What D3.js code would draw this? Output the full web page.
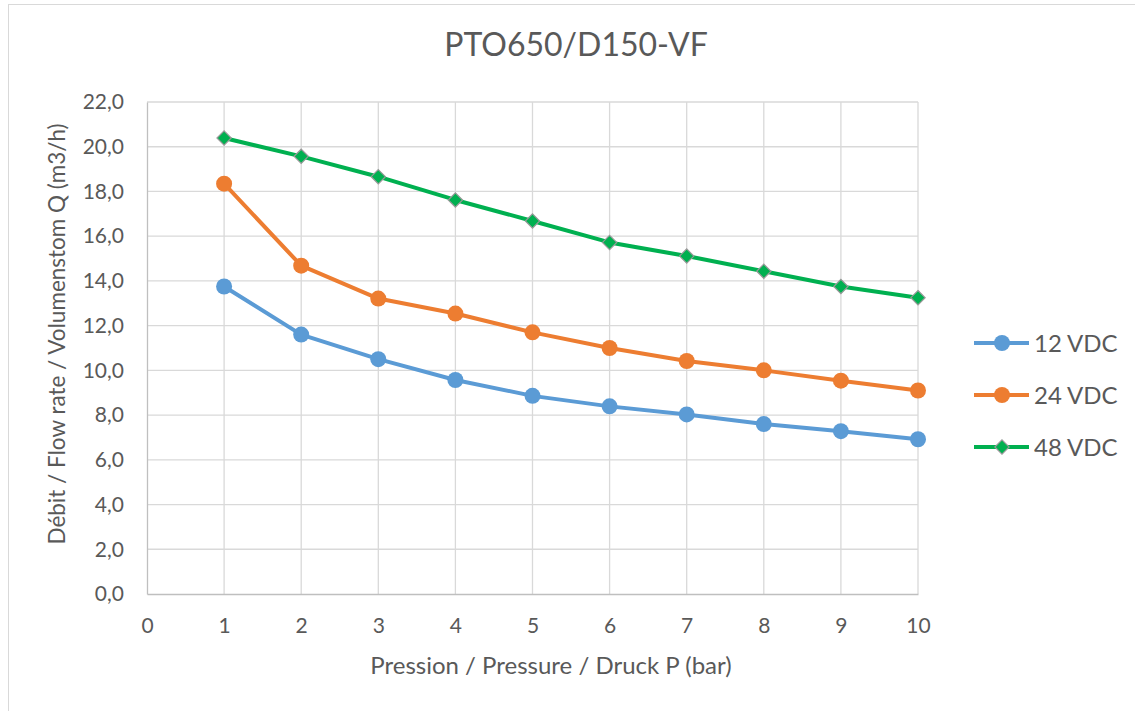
<!DOCTYPE html>
<html>
<head>
<meta charset="utf-8">
<script src="https://cdn.jsdelivr.net/npm/d3@7"></script>
<style>
  body { margin: 0; background: #fff; }
  text { font-family: Lato, "Open Sans", sans-serif; fill: #595959; }
</style>
</head>
<body>
<div id="chart"></div>
<script>
const pressure = [1, 2, 3, 4, 5, 6, 7, 8, 9, 10];
const flow12 = [13.75, 11.6, 10.5, 9.57, 8.86, 8.39, 8.03, 7.6, 7.28, 6.92];
const flow24 = [18.35, 14.68, 13.21, 12.54, 11.7, 11.0, 10.42, 10.0, 9.54, 9.1];
const flow48 = [20.39, 19.57, 18.66, 17.62, 16.68, 15.72, 15.11, 14.43, 13.75, 13.25];
const seriesNames = ["12 VDC", "24 VDC", "48 VDC"];
const xTicks = [0, 1, 2, 3, 4, 5, 6, 7, 8, 9, 10];
const yTicks = [0, 2, 4, 6, 8, 10, 12, 14, 16, 18, 20, 22];

const width = 1135, height = 711,
  margin = {top: 102, bottom: 117, left: 147, right: 217};

const series = [
  {name: seriesNames[0], values: flow12, color: "#5b9bd5", shape: "circle"},
  {name: seriesNames[1], values: flow24, color: "#ed7d31", shape: "circle"},
  {name: seriesNames[2], values: flow48, color: "#00b050", shape: "diamond"}
];

const svg = d3.select("#chart").append("svg")
  .attr("width", width).attr("height", height);

// outer chart border (right and bottom edges fall outside the window)
svg.append("rect")
  .attr("x", 8.5).attr("y", 4.5)
  .attr("width", width + 10).attr("height", height + 10)
  .attr("fill", "none").attr("stroke", "#d9d9d9");

const xScale = d3.scaleLinear().domain([0, 10]).range([margin.left, width - margin.right]);
const yScale = d3.scaleLinear().domain([0, 22]).range([height - margin.bottom, margin.top]);

// grid
svg.append("g")
  .selectAll("line")
  .data(yTicks.slice(1))
  .join("line")
  .attr("x1", xScale(0)).attr("x2", xScale(10))
  .attr("y1", d => yScale(d)).attr("y2", d => yScale(d))
  .attr("stroke", "#d9d9d9").attr("stroke-width", 1.3);

svg.append("g")
  .selectAll("line")
  .data(xTicks.slice(1))
  .join("line")
  .attr("x1", d => xScale(d)).attr("x2", d => xScale(d))
  .attr("y1", yScale(0)).attr("y2", yScale(22))
  .attr("stroke", "#d9d9d9").attr("stroke-width", 1.3);

// axes
const xAxis = d3.axisBottom(xScale).tickValues(xTicks).tickSize(0).tickPadding(24).tickFormat(d3.format("d"));
const yAxis = d3.axisLeft(yScale).tickValues(yTicks).tickSize(0).tickPadding(23)
  .tickFormat(d => d3.format(".1f")(d).replace(".", ","));

const gx = svg.append("g")
  .attr("transform", "translate(0," + yScale(0) + ")")
  .call(xAxis);
gx.select(".domain").attr("stroke", "#bfbfbf").attr("stroke-width", 1.3);
gx.selectAll("text").style("font-size", "21px").attr("fill", "#404040");

const gy = svg.append("g")
  .attr("transform", "translate(" + xScale(0) + ",0)")
  .call(yAxis);
gy.select(".domain").attr("stroke", "#bfbfbf").attr("stroke-width", 1.3);
gy.selectAll("text").style("font-size", "21px").attr("fill", "#595959");

// lines
const line = d3.line()
  .x((d, i) => xScale(pressure[i]))
  .y(d => yScale(d));

const diamond = d3.symbol().type(d3.symbolDiamond2).size(130);

series.forEach(s => {
  svg.append("path")
    .attr("d", line(s.values))
    .attr("fill", "none")
    .attr("stroke", s.color)
    .attr("stroke-width", 4)
    .attr("stroke-linejoin", "round");

  if (s.shape === "circle") {
    svg.append("g").selectAll("circle")
      .data(s.values)
      .join("circle")
      .attr("cx", (d, i) => xScale(pressure[i]))
      .attr("cy", d => yScale(d))
      .attr("r", 8)
      .attr("fill", s.color);
  } else {
    svg.append("g").selectAll("path")
      .data(s.values)
      .join("path")
      .attr("d", diamond)
      .attr("transform", (d, i) => "translate(" + xScale(pressure[i]) + "," + yScale(d) + ")")
      .attr("fill", s.color)
      .attr("stroke", "#999")
      .attr("stroke-width", 1.2);
  }
});

// title
svg.append("text")
  .attr("x", 576)
  .attr("y", 56)
  .attr("text-anchor", "middle")
  .style("font-size", "32px")
  .text("PTO650/D150-VF");

// axis titles
svg.append("text")
  .attr("x", 551)
  .attr("y", 674)
  .attr("text-anchor", "middle")
  .style("font-size", "24px")
  .text("Pression / Pressure / Druck P (bar)");

svg.append("text")
  .attr("transform", "translate(65,334) rotate(-90)")
  .attr("text-anchor", "middle")
  .style("font-size", "22.5px")
  .text("Débit / Flow rate / Volumenstom Q (m3/h)");

// legend
const legend = svg.append("g");
series.forEach((s, i) => {
  const ly = 343 + i * 52;
  legend.append("line")
    .attr("x1", 974).attr("x2", 1029).attr("y1", ly).attr("y2", ly)
    .attr("stroke", s.color).attr("stroke-width", 4);
  if (s.shape === "circle") {
    legend.append("circle").attr("cx", 1002).attr("cy", ly).attr("r", 8).attr("fill", s.color);
  } else {
    legend.append("path").attr("d", diamond)
      .attr("transform", "translate(1002," + ly + ")")
      .attr("fill", s.color).attr("stroke", "#999").attr("stroke-width", 1.2);
  }
  legend.append("text")
    .attr("x", 1034).attr("y", ly + 9)
    .style("font-size", "24px")
    .text(s.name);
});
</script>
</body>
</html>
